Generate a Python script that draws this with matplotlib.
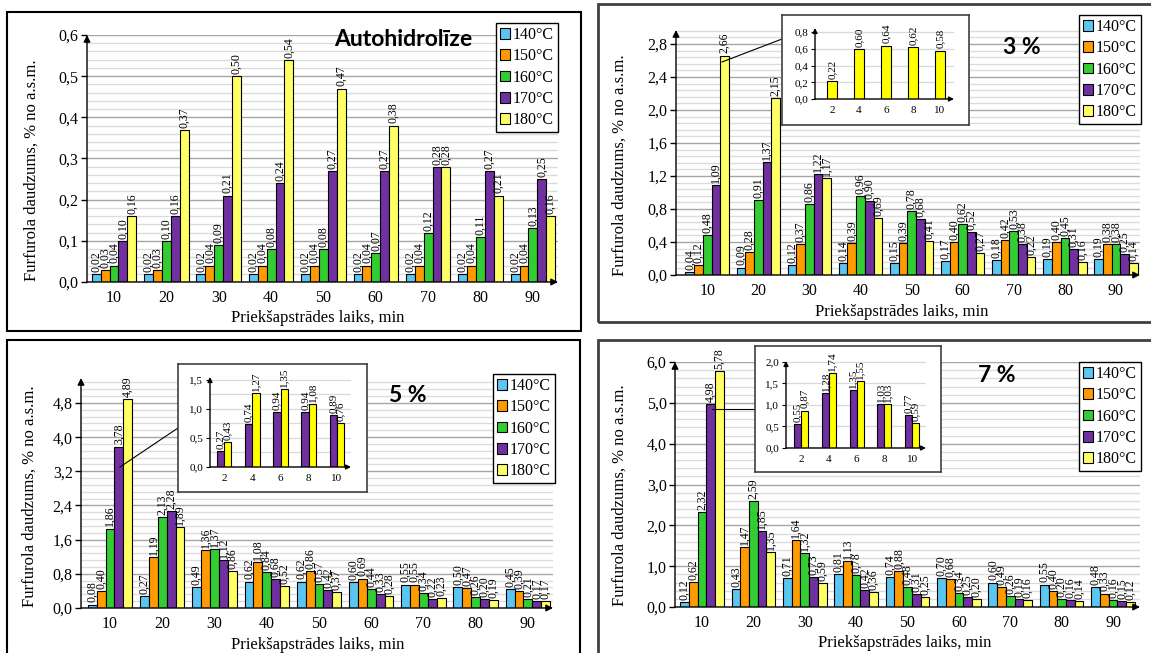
import numpy as np
import matplotlib.pyplot as plt
from matplotlib.patches import Patch, Rectangle
from matplotlib.lines import Line2D
from matplotlib.ticker import MultipleLocator, FuncFormatter

plt.rcParams['font.family'] = ['Liberation Serif', 'DejaVu Serif']

W, H = 1151, 653

times = ['10', '20', '30', '40', '50', '60', '70', '80', '90']
temps = ['140°C', '150°C', '160°C', '170°C', '180°C']
colors = ['#5BC6F2', '#FF9A00', '#33CC33', '#7030A0', '#FFFF66']
inset_x = [2, 4, 6, 8, 10]

# Autohidrolīze
a_140 = [0.02, 0.02, 0.02, 0.02, 0.02, 0.02, 0.02, 0.02, 0.02]
a_150 = [0.03, 0.03, 0.04, 0.04, 0.04, 0.04, 0.04, 0.04, 0.04]
a_160 = [0.04, 0.10, 0.09, 0.08, 0.08, 0.07, 0.12, 0.11, 0.13]
a_170 = [0.10, 0.16, 0.21, 0.24, 0.27, 0.27, 0.28, 0.27, 0.25]
a_180 = [0.16, 0.37, 0.50, 0.54, 0.47, 0.38, 0.28, 0.21, 0.16]

# 3 %
b_140 = [0.04, 0.09, 0.12, 0.14, 0.15, 0.17, 0.18, 0.19, 0.19]
b_150 = [0.12, 0.28, 0.37, 0.39, 0.39, 0.40, 0.42, 0.40, 0.38]
b_160 = [0.48, 0.91, 0.86, 0.96, 0.78, 0.62, 0.53, 0.45, 0.38]
b_170 = [1.09, 1.37, 1.22, 0.90, 0.68, 0.52, 0.38, 0.31, 0.25]
b_180 = [2.66, 2.15, 1.17, 0.69, 0.41, 0.27, 0.22, 0.16, 0.14]
b_ins_180 = [0.22, 0.60, 0.64, 0.62, 0.58]

# 5 %
c_140 = [0.08, 0.27, 0.49, 0.62, 0.62, 0.60, 0.55, 0.50, 0.45]
c_150 = [0.40, 1.19, 1.36, 1.08, 0.86, 0.69, 0.55, 0.47, 0.39]
c_160 = [1.86, 2.13, 1.37, 0.84, 0.57, 0.44, 0.34, 0.26, 0.21]
c_170 = [3.78, 2.28, 1.12, 0.68, 0.42, 0.33, 0.22, 0.20, 0.17]
c_180 = [4.89, 1.89, 0.86, 0.52, 0.37, 0.28, 0.23, 0.19, 0.17]
c_ins_170 = [0.27, 0.74, 0.94, 0.94, 0.89]
c_ins_180 = [0.43, 1.27, 1.35, 1.08, 0.76]

# 7 %
d_140 = [0.12, 0.43, 0.71, 0.81, 0.74, 0.70, 0.60, 0.55, 0.48]
d_150 = [0.62, 1.47, 1.64, 1.13, 0.88, 0.68, 0.49, 0.40, 0.33]
d_160 = [2.32, 2.59, 1.32, 0.78, 0.48, 0.34, 0.26, 0.20, 0.16]
d_170 = [4.98, 1.85, 0.73, 0.42, 0.31, 0.25, 0.19, 0.16, 0.15]
d_180 = [5.78, 1.35, 0.59, 0.36, 0.25, 0.20, 0.16, 0.14, 0.12]
d_ins_170 = [0.55, 1.28, 1.35, 1.03, 0.77]
d_ins_180 = [0.87, 1.74, 1.55, 1.03, 0.59]

fig = plt.figure(figsize=(11.51, 6.53), dpi=100)


def px_axes(l, t, r, b):
    return fig.add_axes([l / W, 1 - b / H, (r - l) / W, (b - t) / H])


def frame(l, t, r, b, color, lw):
    fig.add_artist(Rectangle((l / W, 1 - b / H), (r - l) / W, (b - t) / H,
                             transform=fig.transFigure, fill=False,
                             edgecolor=color, lw=lw))


def comma(v, p):
    return f'{v:.1f}'.replace('.', ',')


def arrows(ax, ms=10):
    for s in ax.spines.values():
        s.set_visible(False)
    props = dict(arrowstyle='-|>', color='k', lw=1, mutation_scale=ms,
                 shrinkA=0, shrinkB=0)
    ax.annotate('', xy=(0, 1), xytext=(0, 0), xycoords='axes fraction',
                arrowprops=props)
    ax.annotate('', xy=(1, 0), xytext=(0, 0), xycoords='axes fraction',
                arrowprops=props)


def vlabel(ax, x, v, size):
    ax.annotate(f'{v:.2f}'.replace('.', ','), (x, v), xytext=(0, 1.5),
                textcoords='offset points', rotation=90, ha='center',
                va='bottom', fontsize=size, zorder=4)


def main_panel(box, xlim, ylim, major, series):
    ax = px_axes(*box)
    x = np.arange(len(times))
    w = 0.17
    for i, (vals, c) in enumerate(zip(series, colors)):
        xs = x + (i - 2) * w
        ax.bar(xs, vals, w, color=c, edgecolor='k', lw=0.8, zorder=3)
        for xi, v in zip(xs, vals):
            vlabel(ax, xi, v, 8.5)
    ax.set_xlim(xlim)
    ax.set_ylim(ylim)
    ax.set_xticks(x, times)
    ax.yaxis.set_major_locator(MultipleLocator(major))
    ax.yaxis.set_minor_locator(MultipleLocator(major / 5))
    ax.yaxis.set_major_formatter(FuncFormatter(comma))
    ax.set_axisbelow(True)
    ax.grid(axis='y', which='major', color='#A6A6A6', lw=1)
    ax.grid(axis='y', which='minor', color='#DCDCDC', lw=1)
    ax.tick_params(axis='x', length=0, pad=6, labelsize=11.5)
    ax.tick_params(axis='y', which='major', length=4, width=1, pad=2,
                   labelsize=11.5)
    ax.tick_params(axis='y', which='minor', length=0)
    arrows(ax)
    return ax


def legend(ax, l, t):
    handles = [Patch(facecolor=c, edgecolor='k', lw=0.8) for c in colors]
    leg = ax.legend(handles, temps, loc='upper left',
                    bbox_to_anchor=(l / W, 1 - t / H),
                    bbox_transform=fig.transFigure, fontsize=11.5,
                    fancybox=False, edgecolor='k', framealpha=1,
                    borderpad=0.25, labelspacing=0.33, handlelength=0.65,
                    handleheight=0.65, handletextpad=0.15, borderaxespad=0)
    leg.get_frame().set_linewidth(1)


def inset(box, axbox, xlim, ylim, major, minor, bars):
    bg = px_axes(*box)
    bg.set_xticks([])
    bg.set_yticks([])
    for s in bg.spines.values():
        s.set_color('#404040')
        s.set_linewidth(1.2)
    bg.set_zorder(2)
    ax = px_axes(*axbox)
    ax.set_zorder(3)
    ax.patch.set_alpha(0)
    for vals, c, off, w in bars:
        xs = np.array(inset_x) + off
        ax.bar(xs, vals, w, color=c, edgecolor='k', lw=0.8, zorder=3)
        for xi, v in zip(xs, vals):
            vlabel(ax, xi, v, 8)
    ax.set_xlim(xlim)
    ax.set_ylim(ylim)
    ax.set_xticks(inset_x, [str(v) for v in inset_x])
    ax.yaxis.set_major_locator(MultipleLocator(major))
    ax.yaxis.set_minor_locator(MultipleLocator(minor))
    ax.yaxis.set_major_formatter(FuncFormatter(comma))
    ax.set_axisbelow(True)
    ax.grid(axis='y', which='both', color='#D9D9D9', lw=0.9)
    ax.tick_params(axis='x', length=0, pad=5, labelsize=8)
    ax.tick_params(axis='y', which='major', length=3, width=0.8, pad=2,
                   labelsize=8)
    ax.tick_params(axis='y', which='minor', length=0)
    arrows(ax, ms=7)
    return ax


def connector(x1, y1, x2, y2):
    fig.add_artist(Line2D([x1 / W, x2 / W], [1 - y1 / H, 1 - y2 / H],
                          transform=fig.transFigure, color='k', lw=0.8,
                          zorder=1.5))


def texts(ylx, yly, xlx, xly, title, tx, ty):
    fig.text(ylx / W, 1 - yly / H, 'Furfurola daudzums, % no a.s.m.',
             rotation=90, ha='center', va='center', fontsize=12)
    fig.text(xlx / W, 1 - xly / H, 'Priekšapstrādes laiks, min',
             ha='center', va='center', fontsize=12)
    fig.text(tx / W, 1 - ty / H, title, family=['Lato', 'DejaVu Sans'],
             weight='bold', fontsize=16.5, ha='center', va='center')


# frames
frame(7, 12, 581, 331, 'k', 1.5)
frame(598, 4, 1156, 322, '#404040', 2)
frame(7, 340, 580, 660, 'k', 1.5)
frame(598, 340, 1156, 660, '#404040', 2)

# Autohidrolīze
ax1 = main_panel((87, 35, 558, 282), (-0.515, 8.48), (0, 0.6), 0.1,
                 [a_140, a_150, a_160, a_170, a_180])
legend(ax1, 496, 23)
texts(32, 170, 318, 318, 'Autohidrolīze', 403, 40)

# 3 %
ax2 = main_panel((676, 30, 1140, 275), (-0.61, 8.47), (0, 2.97), 0.4,
                 [b_140, b_150, b_160, b_170, b_180])
legend(ax2, 1079, 15)
texts(620, 165, 902, 312, '3 %', 1022, 48)
inset((782, 15, 969, 125), (815, 28, 954, 99), (0.74, 11.04), (0, 0.85),
      0.2, 0.2, [(b_ins_180, '#FFFF00', 0, 0.72)])
connector(722, 62, 782, 39)

# 5 %
ax3 = main_panel((81, 378, 553, 608), (-0.555, 8.48), (0, 5.385), 0.8,
                 [c_140, c_150, c_160, c_170, c_180])
legend(ax3, 493, 374)
texts(30, 496, 318, 645, '5 %', 408, 396)
inset((178, 364, 367, 492), (210, 377, 351, 467), (1.0, 11.0), (0, 1.55),
      0.5, 0.25, [(c_ins_170, '#7030A0', -0.26, 0.52),
                  (c_ins_180, '#FFFF00', 0.26, 0.52)])
connector(120, 467, 178, 428)

# 7 %
ax4 = main_panel((675, 362, 1140, 607), (-0.525, 8.525), (0, 6.0), 1.0,
                 [d_140, d_150, d_160, d_170, d_180])
legend(ax4, 1079, 362)
texts(620, 495, 905, 643, '7 %', 997, 375)
inset((755, 346, 941, 472), (786, 361, 926, 448), (0.92, 11.0), (0, 2.02),
      0.5, 0.5, [(d_ins_170, '#7030A0', -0.25, 0.5),
                 (d_ins_180, '#FFFF00', 0.25, 0.5)])
connector(712, 409, 755, 409)

fig.savefig('out.png', dpi=100)
